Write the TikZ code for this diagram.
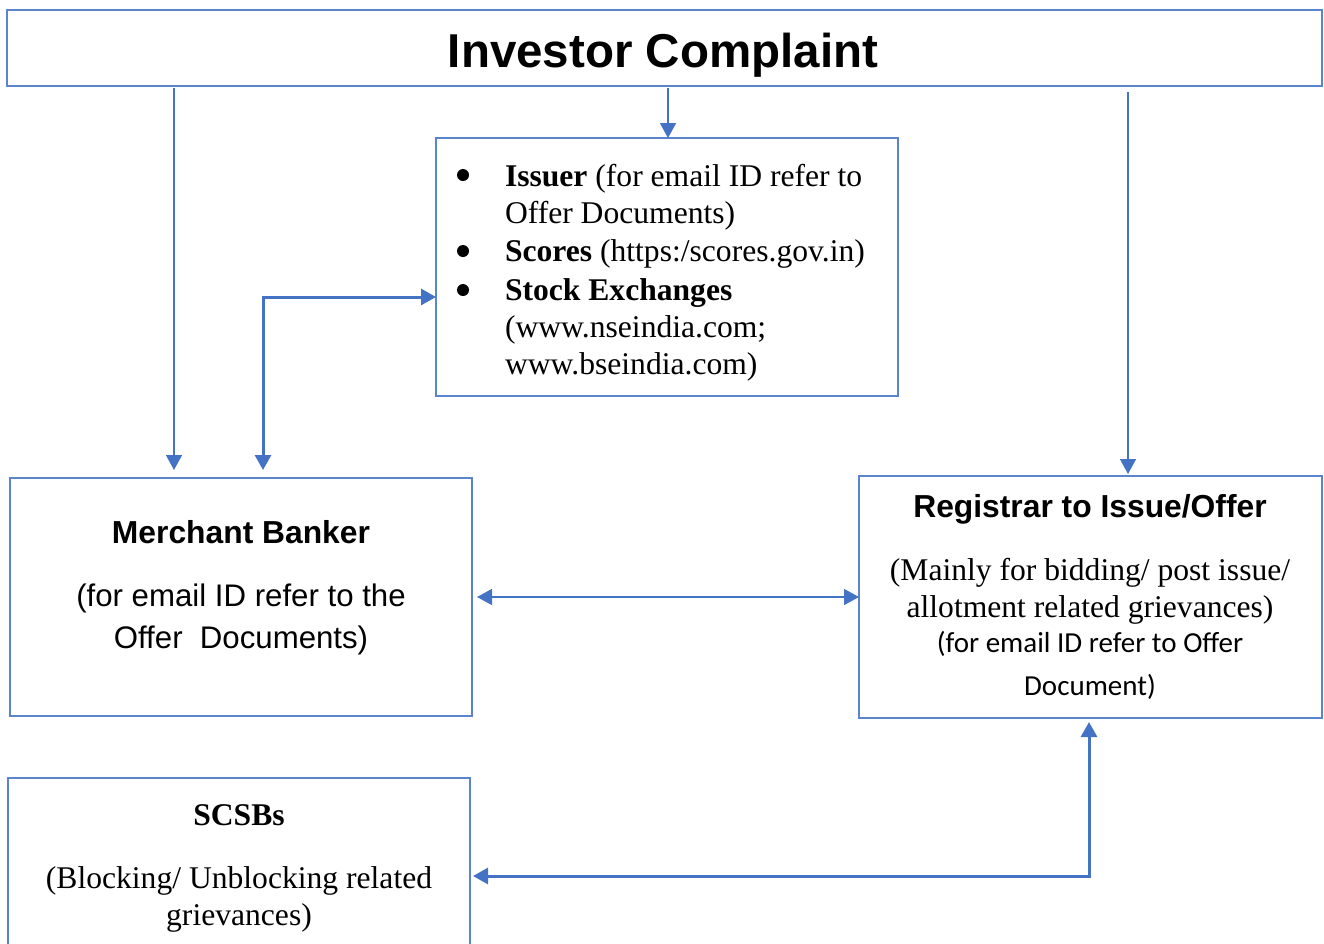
\documentclass[tikz,border=0pt]{standalone}
\usepackage{fontspec}
\setmainfont{Liberation Serif}
\newfontfamily\arialf{Liberation Sans}
\newfontfamily\timesf{Liberation Serif}
\newfontfamily\calf{Carlito}
\usetikzlibrary{arrows.meta}
\definecolor{boxblue}{HTML}{4472C4}
\definecolor{edgeblue}{HTML}{5A84CE}
\tikzset{
  box/.style={draw=edgeblue, line width=1.2pt, rectangle, inner sep=0pt, outer sep=0pt, anchor=north west},
  thinarr/.style={draw=boxblue, line width=1.4pt, -{Triangle[width=16pt,length=15pt]}},
  thinboth/.style={draw=boxblue, line width=1.4pt, {Triangle[width=16pt,length=15pt]}-{Triangle[width=16pt,length=15pt]}},
  thickarr/.style={draw=boxblue, line width=3pt, {Triangle[width=16pt,length=15pt]}-{Triangle[width=16pt,length=15pt]}},
  lbl/.style={inner sep=0pt, outer sep=0pt, anchor=base},
  lblw/.style={inner sep=0pt, outer sep=0pt, anchor=base west},
  sansb/.style={font=\arialf\bfseries\fontsize{31.8}{36}\selectfont},
  sans/.style={font=\arialf\fontsize{31.2}{36}\selectfont},
  serif/.style={font=\timesf\fontsize{31.6}{36}\selectfont},
  cal/.style={font=\calf\fontsize{29}{36}\selectfont},
  bul/.style={circle, fill=black, minimum size=12pt, inner sep=0pt}
}
\begin{document}
\begin{tikzpicture}[x=1pt,y=-1pt]
\useasboundingbox (0,0) rectangle (1324,943);
\clip (0,0) rectangle (1324,943);
% boxes
\node[box, minimum width=1315pt, minimum height=76pt] (top) at (7,10) {};
\node[box, minimum width=462pt, minimum height=258pt] (iss) at (436,138) {};
\node[box, minimum width=462pt, minimum height=238pt] (mb) at (10,478) {};
\node[box, minimum width=463pt, minimum height=242pt] (reg) at (859,476) {};
\node[box, minimum width=462pt, minimum height=200pt] (scsb) at (8,778) {};
% title
\node[lbl, font=\arialf\bfseries\fontsize{47.5}{50}\selectfont] (title) at (663,67) {Investor Complaint};
% issuer box text
\node[bul] (b1) at (463,175) {};
\node[bul] (b2) at (463,251) {};
\node[bul] (b3) at (463,290) {};
\node[lblw, serif] (i1) at (505,186) {\textbf{Issuer} (for email ID refer to};
\node[lblw, serif] (i2) at (505,223) {Offer Documents)};
\node[lblw, serif] (i3) at (505,261) {\textbf{Scores} (https:/scores.gov.in)};
\node[lblw, serif] (i4) at (505,300) {\textbf{Stock Exchanges}};
\node[lblw, serif] (i5) at (505,337) {(www.nseindia.com;};
\node[lblw, serif] (i6) at (505,374) {www.bseindia.com)};
% merchant banker
\node[lbl, sansb] (m1) at (241,543) {Merchant Banker};
\node[lbl, sans] (m2) at (241,606) {(for email ID refer to the};
\node[lbl, sans] (m3) at (241,648) {Offer\ \ Documents)};
% registrar
\node[lbl, sansb] (r1) at (1090,517) {Registrar to Issue/Offer};
\node[lbl, serif] (r2) at (1090,580) {(Mainly for bidding/ post issue/};
\node[lbl, serif] (r3) at (1090,617) {allotment related grievances)};
\node[lbl, cal] (r4) at (1090,652) {(for email ID refer to Offer};
\node[lbl, cal] (r5) at (1090,695) {Document)};
% scsbs
\node[lbl, font=\timesf\bfseries\fontsize{31.6}{36}\selectfont] (s1) at (239,825) {SCSBs};
\node[lbl, serif] (s2) at (239,888) {(Blocking/ Unblocking related};
\node[lbl, serif] (s3) at (239,925) {grievances)};
% connectors
\coordinate (a1) at (174,88);
\draw[thinarr, shorten >=8pt] (a1) -- (a1 |- mb.north);
\coordinate (a2) at (668,88);
\draw[thinarr] (a2) -- (a2 |- iss.north);
\coordinate (a3) at (1128,92);
\draw[thinarr, shorten >=2pt] (a3) -- (a3 |- reg.north);
\coordinate (k1) at (263,297);
\draw[thickarr, shorten >=8pt] (k1 -| iss.west) -- (k1) -- (k1 |- mb.north);
\coordinate (h) at (0,597);
\draw[thinboth, shorten <=5pt] (h -| mb.east) -- (h -| reg.west);
\coordinate (k2) at (1089,876);
\draw[thickarr, shorten <=4pt, shorten >=3pt] (k2 |- reg.south) -- (k2) -- (k2 -| scsb.east);
\end{tikzpicture}
\end{document}
